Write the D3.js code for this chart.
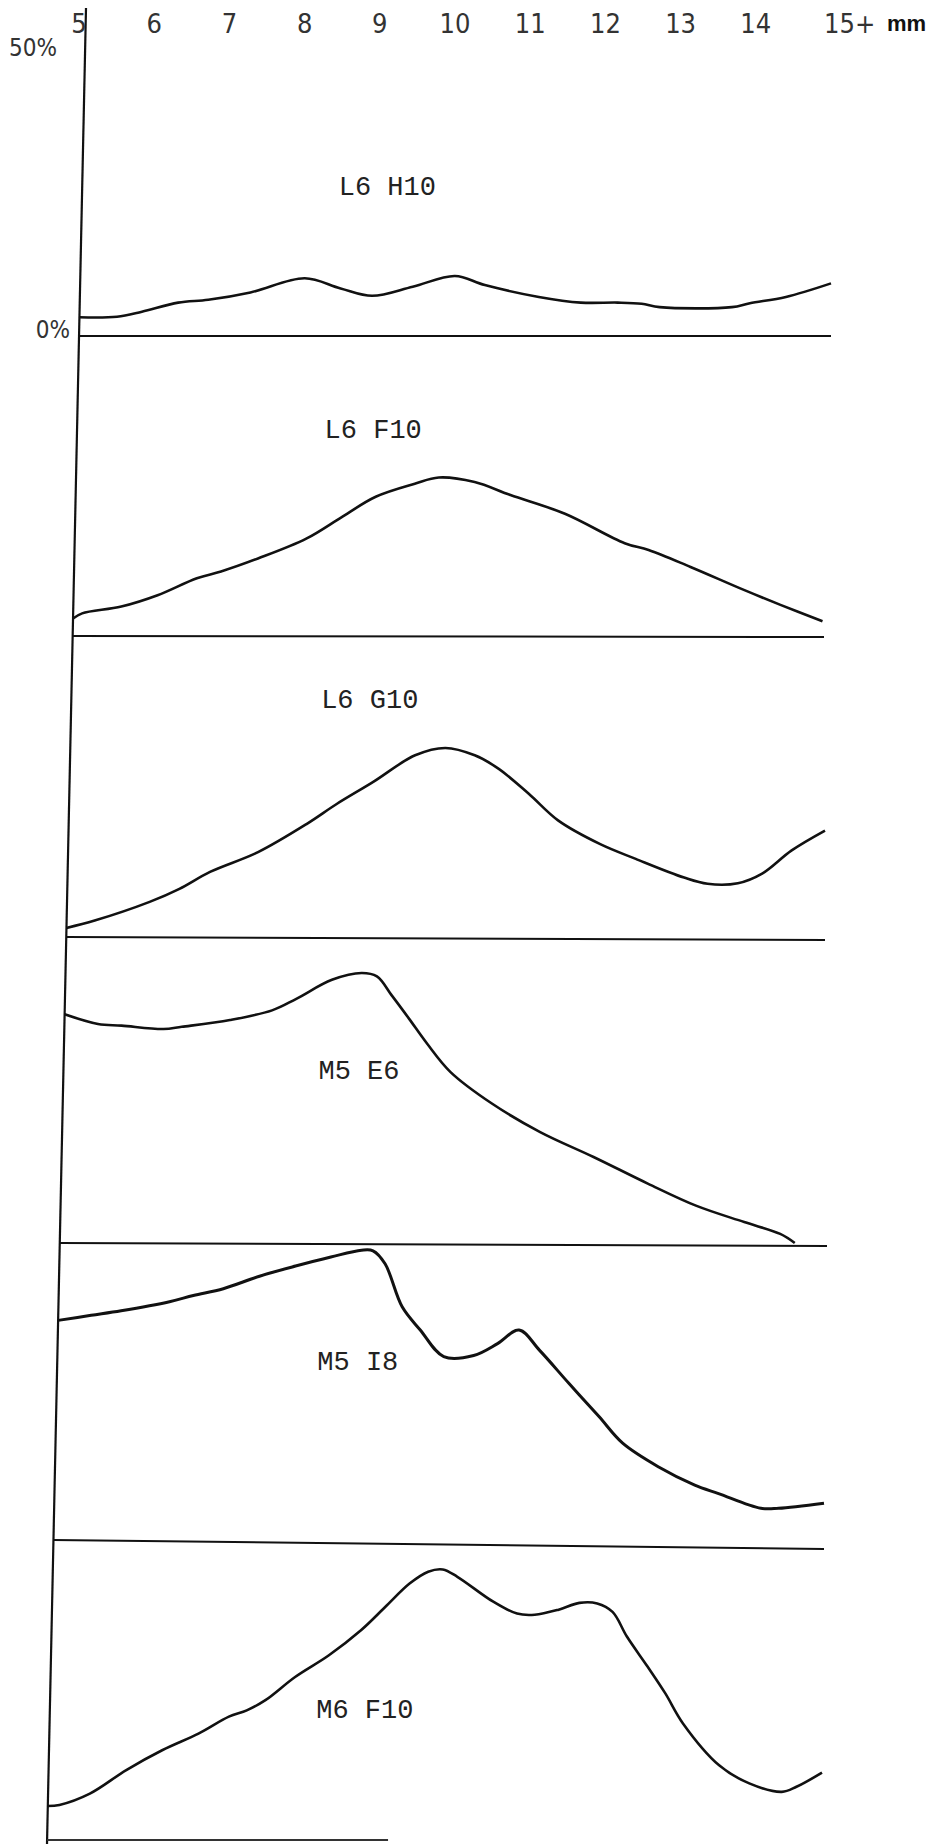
<!DOCTYPE html>
<html>
<head>
<meta charset="utf-8">
<script src="https://cdn.jsdelivr.net/npm/d3@7"></script>
<style>
  body { margin: 0; background: #fff; }
  svg { display: block; }
</style>
</head>
<body>
<div id="chart"></div>
<script>
// size classes along the top (mm)
const sizes = [5, 6, 7, 8, 9, 10, 11, 12, 13, 14, 15];
const sizeLabels = ['5', '6', '7', '8', '9', '10', '11', '12', '13', '14', '15+'];

const panelNames = ['L6 H10', 'L6 F10', 'L6 G10', 'M5 E6', 'M5 I8', 'M6 F10'];

// [mm, percent]
const l6h10 = [[5.0,3.3],[5.5,3.4],[5.83,4.3],[6.31,5.9],[6.71,6.4],[7.27,7.7],[7.99,10.2],[8.47,8.4],[8.89,7.1],[9.43,8.7],[9.99,10.6],[10.39,9.0],[11.11,6.9],[11.67,5.9],[12.16,5.9],[12.48,5.7],[12.72,5.1],[13.68,5.1],[13.92,5.8],[14.4,6.9],[15.0,9.3]];
const l6f10 = [[5.0,3.1],[5.12,4.0],[5.64,5.2],[6.12,7.2],[6.64,10.2],[6.96,11.4],[7.45,13.7],[8.09,17.2],[8.57,21.1],[9.01,24.6],[9.53,26.9],[9.85,28.0],[10.33,27.2],[10.81,24.9],[11.54,21.6],[12.34,16.4],[12.66,15.2],[13.22,12.2],[13.94,8.1],[14.42,5.5],[14.98,2.6]];
const l6g10 = [[5.0,1.6],[5.37,2.9],[6.09,6.2],[6.48,8.5],[6.88,11.5],[7.51,15.0],[8.15,20.0],[8.54,23.5],[9.02,27.4],[9.57,32.1],[9.97,33.4],[10.36,32.1],[10.68,29.7],[11.08,25.3],[11.47,20.6],[12.03,16.4],[12.5,13.8],[13.14,10.5],[13.45,9.4],[13.85,9.5],[14.17,11.2],[14.56,15.3],[15.0,18.8]];
const m5e6 = [[5.0,40.4],[5.44,38.7],[5.75,38.4],[6.3,37.8],[6.54,38.2],[7.17,39.4],[7.72,41.1],[8.03,43.1],[8.5,46.5],[8.89,47.7],[9.09,47.1],[9.29,43.7],[9.52,39.6],[9.76,35.2],[10.07,30.2],[10.62,24.6],[11.25,19.6],[11.95,15.2],[12.66,10.5],[13.29,6.6],[13.92,3.7],[14.39,1.6],[14.58,0]];
const m5i8 = [[5.0,38.8],[5.43,39.7],[5.82,40.5],[6.45,42.1],[6.76,43.2],[7.15,44.4],[7.62,46.6],[8.09,48.4],[8.55,50.0],[8.95,51.2],[9.1,51.1],[9.26,48.8],[9.49,41.2],[9.73,37.1],[10.04,32.4],[10.43,32.6],[10.74,34.7],[11.02,37.1],[11.29,33.5],[11.68,27.6],[12.07,21.8],[12.38,17.1],[12.85,12.9],[13.32,9.7],[13.63,8.2],[14.18,5.6],[14.41,5.6],[15.0,6.5]];
const m6f10 = [[5.0,6.0],[5.15,6.2],[5.54,8.2],[6.01,12.4],[6.47,15.9],[6.93,18.8],[7.32,21.8],[7.55,22.9],[7.79,24.7],[8.17,28.8],[8.6,32.6],[9.02,37.1],[9.33,41.2],[9.64,45.3],[9.88,47.4],[10.07,47.8],[10.26,46.5],[10.73,42.1],[11.04,40.0],[11.27,39.8],[11.58,40.7],[11.85,41.9],[12.08,41.8],[12.28,40.3],[12.47,35.9],[12.74,30.6],[12.97,25.9],[13.2,20.6],[13.67,13.2],[14.06,10.0],[14.48,8.5],[14.67,9.4],[15.0,11.9]];

const series = [l6h10, l6f10, l6g10, m5e6, m5i8, m6f10];

// where each panel's caption sits, in [mm, percent]
const captionAt = [[9.1, 25], [9.0, 35], [9.0, 40.5], [8.9, 29], [8.95, 30], [9.1, 21.5]];

// page layout (px)
const W = 931, H = 1844;
const baselines = [336, 636, 937, 1243, 1540, 1840];
const baseTilt = [0, 1, 3, 3, 9, 0];     // the scan is a little crooked
const rightEnds = [831, 824, 825, 827, 824, 822];
const fullScale = 283;                  // px for 50 %
const axisTop = { x: 86, y: 8 }, axisBottom = { x: 47, y: H };
const axisX = y => axisTop.x + (axisBottom.x - axisTop.x) * (y - axisTop.y) / (axisBottom.y - axisTop.y);

const svg = d3.select('#chart')
  .append('svg')
  .attr('width', W)
  .attr('height', H)
  .attr('viewBox', `0 0 ${W} ${H}`);

const ink = '#111';
const tickFont = '"Liberation Sans Narrow", "DejaVu Sans Condensed", sans-serif';
const typeFont = '"Liberation Mono", "DejaVu Sans Mono", monospace';

const panels = series.map((data, i) => {
  const base = baselines[i];
  const x = d3.scaleLinear().domain([5, 15]).range([axisX(base), rightEnds[i]]);
  const y = d3.scaleLinear().domain([0, 50]).range([base, base - fullScale]);
  return { data, x, y, base, tilt: baseTilt[i], name: panelNames[i], caption: captionAt[i] };
});

// size ticks along the top, from the first panel's scale
const topX = panels[0].x;
const last = sizes.length - 1;
svg.append('g')
  .selectAll('text')
  .data(sizes)
  .join('text')
  .attr('x', (d, i) => i === last ? topX(d) - 7 : topX(d))
  .attr('y', 33)
  .attr('text-anchor', (d, i) => i === last ? 'start' : 'middle')
  .attr('font-family', tickFont)
  .attr('font-size', 27)
  .attr('fill', '#333')
  .text((d, i) => sizeLabels[i]);

svg.append('text')
  .attr('x', 887)
  .attr('y', 31)
  .attr('font-family', '"Liberation Sans", Arial, sans-serif')
  .attr('font-weight', 'bold')
  .attr('font-size', 22)
  .attr('fill', ink)
  .text('mm');

// percent labels on the first panel
const p0 = panels[0];
svg.append('text')
  .attr('x', 57).attr('y', p0.y(50) + 3)
  .attr('text-anchor', 'end')
  .attr('font-family', tickFont).attr('font-size', 24).attr('fill', '#333')
  .text('50%');
svg.append('text')
  .attr('x', 70).attr('y', p0.y(0) + 2)
  .attr('text-anchor', 'end')
  .attr('font-family', tickFont).attr('font-size', 24).attr('fill', '#333')
  .text('0%');

// the single slanted vertical axis
svg.append('line')
  .attr('x1', axisTop.x).attr('y1', axisTop.y)
  .attr('x2', axisBottom.x).attr('y2', axisBottom.y)
  .attr('stroke', ink)
  .attr('stroke-width', 2.2);

panels.forEach((p, i) => {
  const g = svg.append('g').attr('class', 'panel');

  // follow the slanted axis on the left, fading out towards the right edge
  const px = d => p.x(d[0]) + (axisX(p.y(d[1])) - axisX(p.base)) * (15 - d[0]) / 10;
  const line = d3.line()
    .x(px)
    .y(d => p.y(d[1]))
    .curve(d3.curveCatmullRom.alpha(0.5));

  // baseline (the last one only survives part way in the original)
  const endMm = i === panels.length - 1 ? 9.4 : 15;
  g.append('line')
    .attr('x1', p.x(5)).attr('x2', p.x(endMm))
    .attr('y1', p.y(0)).attr('y2', p.y(0) + p.tilt * (endMm - 5) / 10)
    .attr('stroke', i === panels.length - 1 ? '#333' : ink)
    .attr('stroke-width', 2);

  g.append('path')
    .datum(p.data)
    .attr('d', line)
    .attr('fill', 'none')
    .attr('stroke', ink)
    .attr('stroke-width', i === 4 ? 3 : 2.6)
    .attr('stroke-linejoin', 'round');

  g.append('text')
    .attr('x', p.x(p.caption[0]))
    .attr('y', p.y(p.caption[1]))
    .attr('text-anchor', 'middle')
    .attr('font-family', typeFont)
    .attr('font-size', 27)
    .attr('fill', '#222')
    .text(p.name);
});
</script>
</body>
</html>
